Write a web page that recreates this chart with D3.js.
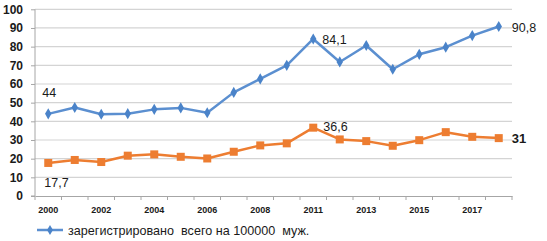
<!DOCTYPE html>
<html><head><meta charset="utf-8">
<script src="https://cdn.jsdelivr.net/npm/d3@7"></script>
<style>
html,body{margin:0;padding:0;background:#fff;}
svg{display:block;font-family:"Liberation Sans",Arial,sans-serif;}
</style></head>
<body><svg id="c" width="547" height="241"></svg>
<script>
const years = ["2000","2001","2002","2003","2004","2005","2006","2007","2008","2009","2011","2012","2013","2014","2015","2016","2017","2018"];
const tickLabels = ["2000","2002","2004","2006","2008","2011","2013","2015","2017"];
const totalValues = [44,47.4,43.8,44.1,46.4,47.2,44.6,55.5,62.7,70,84.1,71.8,80.6,67.9,75.9,79.7,85.9,90.8];
const secondValues = [17.7,19.3,18.2,21.6,22.3,21,20.1,23.7,27.1,28.2,36.6,30.3,29.4,26.9,29.9,34.2,31.7,31];
const yTicks = [0,10,20,30,40,50,60,70,80,90,100];
const legendLabel = "зарегистрировано  всего на 100000  муж.";
const totalLabels = [{i:0,t:"44"},{i:10,t:"84,1"},{i:17,t:"90,8"}];
const secondLabels = [{i:0,t:"17,7"},{i:10,t:"36,6"},{i:17,t:"31"}];

const svg = d3.select("#c");
const L=35, R=512, T=9.3, B=196;
const x = d3.scaleBand().domain(years).range([L,R]);
const cx = d => x(d)+x.bandwidth()/2;
const y = d3.scaleLinear().domain([0,100]).range([B,T]);

// gridlines
svg.append("g").selectAll("line").data(yTicks.filter(v=>v>0)).join("line")
  .attr("x1",L).attr("x2",R).attr("y1",d=>y(d)).attr("y2",d=>y(d))
  .attr("stroke","#d4d4d4").attr("stroke-width",1.2);

// y axis
const ya = svg.append("g").attr("transform",`translate(${L},0)`)
  .call(d3.axisLeft(y).tickValues(yTicks).tickSize(4).tickPadding(8));
ya.select(".domain").attr("stroke","#a6a6a6").attr("d",`M-4,${B}H0V${T}`);
ya.selectAll(".tick line").attr("stroke","#a6a6a6");
ya.selectAll("text").attr("font-size","12px").attr("font-weight","bold").attr("fill","#1a1a1a")
  .attr("font-family","Liberation Sans, Arial, sans-serif");

// x axis
const xa = svg.append("g").attr("transform",`translate(0,${B})`)
  .call(d3.axisBottom(x).tickSize(0).tickPadding(11)
    .tickFormat(d=>tickLabels.includes(d)?d:""));
xa.select(".domain").attr("stroke","#a6a6a6");
xa.selectAll("text").attr("font-size","9px").attr("font-weight","bold").attr("fill","#1a1a1a")
  .attr("font-family","Liberation Sans, Arial, sans-serif");
xa.append("g").selectAll("line").data(years.map(d=>x(d)).concat([R])).join("line")
  .attr("x1",d=>d).attr("x2",d=>d).attr("y1",0).attr("y2",4).attr("stroke","#a6a6a6");

const line = d3.line().x((d,i)=>cx(years[i])).y(d=>y(d));

// orange series
svg.append("path").datum(secondValues).attr("d",line)
  .attr("fill","none").attr("stroke","#ed7d31").attr("stroke-width",2.5).attr("stroke-linejoin","round");
svg.append("g").selectAll("rect").data(secondValues).join("rect")
  .attr("x",(d,i)=>cx(years[i])-4).attr("y",d=>y(d)-4).attr("width",8).attr("height",8)
  .attr("fill","#ed7d31");

// blue series
svg.append("path").datum(totalValues).attr("d",line)
  .attr("fill","none").attr("stroke","#5b8fd0").attr("stroke-width",2.5).attr("stroke-linejoin","round");
const diamond = d3.symbol().type(d3.symbolDiamond).size(36);
svg.append("g").selectAll("path").data(totalValues).join("path")
  .attr("d",diamond).attr("transform",(d,i)=>`translate(${cx(years[i])},${y(d)})`)
  .attr("fill","#4a83c9");

// data labels
const lab = svg.append("g").attr("font-size","12.5px").attr("fill","#1a1a1a");
lab.append("text").attr("x",cx(years[0])-6).attr("y",y(totalValues[0])-17).text(totalLabels[0].t);
lab.append("text").attr("x",cx(years[10])+9).attr("y",y(totalValues[10])+5).text(totalLabels[1].t);
lab.append("text").attr("x",cx(years[17])+13).attr("y",y(totalValues[17])+6).text(totalLabels[2].t);
lab.append("text").attr("x",cx(years[0])-4).attr("y",y(secondValues[0])+24).text(secondLabels[0].t);
lab.append("text").attr("x",cx(years[10])+10).attr("y",y(secondValues[10])+3).text(secondLabels[1].t);
lab.append("text").attr("x",cx(years[17])+13).attr("y",y(secondValues[17])+5)
  .attr("font-weight","bold").attr("font-size","13px").text(secondLabels[2].t);

// legend
const lg = svg.append("g").attr("transform","translate(37,230)");
lg.append("line").attr("x1",0).attr("x2",26).attr("y1",0).attr("y2",0)
  .attr("stroke","#5b8fd0").attr("stroke-width",2.5);
lg.append("path").attr("d",d3.symbol().type(d3.symbolDiamond).size(30)).attr("transform","translate(13,0)").attr("fill","#4a83c9");
lg.append("text").attr("x",31).attr("y",4.5).attr("font-size","12.6px").attr("fill","#1a1a1a")
  .style("white-space","pre").text(legendLabel);
</script></body></html>
